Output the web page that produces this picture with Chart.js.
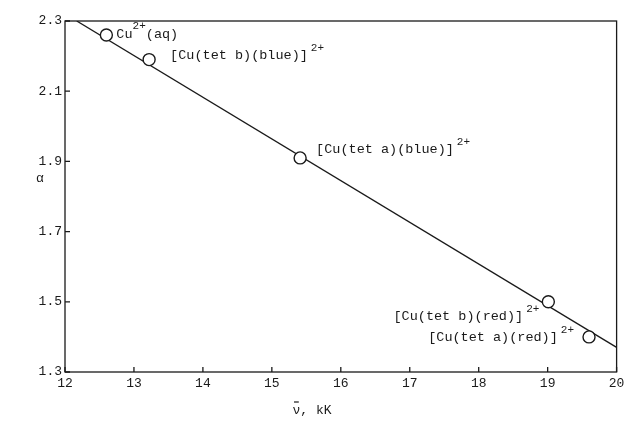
<!DOCTYPE html>
<html>
<head>
<meta charset="utf-8">
<script src="https://cdn.jsdelivr.net/npm/chart.js@4/dist/chart.umd.min.js"></script>
<style>
html, body { margin: 0; background: #fff; }
#wrap { width: 624px; height: 429px; position: relative; }
</style>
</head>
<body>
<div id="wrap"><canvas id="chart"></canvas></div>
<script>
// data
const waveNumbers = [12.6, 13.22, 15.41, 19.01, 19.6];   // kK
const alphas = [2.26, 2.19, 1.91, 1.50, 1.40];
// each label: plain, superscript, plain, ...
const labelText = [
    ['Cu', '2+', '(aq)'],
    ['[Cu(tet b)(blue)]', '2+'],
    ['[Cu(tet a)(blue)]', '2+'],
    ['[Cu(tet b)(red)]', '2+'],
    ['[Cu(tet a)(red)]', '2+']
];
const fitX = [12.17, 20];
const fitY = [2.3, 1.37];
const xTicks = [12, 13, 14, 15, 16, 17, 18, 19, 20];
const yTicks = [1.3, 1.5, 1.7, 1.9, 2.1, 2.3];

// where each label sits relative to its point
const labelPlace = [
    { dx: 10, dy: -1, align: 'left' },
    { dx: 21, dy: -4, align: 'left' },
    { dx: 16, dy: -8, align: 'left' },
    { dx: -9, dy: 15, align: 'right' },
    { dx: -15, dy: 1, align: 'right' }
];

const ink = '#1a1a1a';
const mono = '"Liberation Mono", "DejaVu Sans Mono", monospace';

const framePlugin = {
    id: 'frame',
    afterDatasetsDraw(chart) {
        const ctx = chart.ctx;
        const a = chart.chartArea;
        const xs = chart.scales.x;
        const ys = chart.scales.y;
        ctx.save();
        ctx.strokeStyle = ink;
        ctx.lineWidth = 1.3;
        ctx.strokeRect(a.left, a.top, a.right - a.left, a.bottom - a.top);
        // inward ticks
        ctx.beginPath();
        yTicks.forEach(v => {
            const y = ys.getPixelForValue(v);
            ctx.moveTo(a.left, y);
            ctx.lineTo(a.left + 5, y);
        });
        xTicks.forEach(v => {
            const x = xs.getPixelForValue(v);
            ctx.moveTo(x, a.bottom);
            ctx.lineTo(x, a.bottom - 5);
        });
        ctx.stroke();

        // point labels
        ctx.fillStyle = ink;
        ctx.textBaseline = 'middle';
        labelText.forEach((parts, i) => {
            const p = labelPlace[i];
            let width = 0;
            parts.forEach((t, k) => {
                ctx.font = (k % 2 ? '11px ' : '13.5px ') + mono;
                width += ctx.measureText(t).width + (k % 2 ? 3 : 0);
            });
            let x = xs.getPixelForValue(waveNumbers[i]) + p.dx;
            const y = ys.getPixelForValue(alphas[i]) + p.dy;
            if (p.align === 'right') x -= width;
            parts.forEach((t, k) => {
                const sup = k % 2 === 1;
                ctx.font = (sup ? '11px ' : '13.5px ') + mono;
                if (sup && k === parts.length - 1) x += 3;
                ctx.fillText(t, x, sup ? y - 8 : y);
                x += ctx.measureText(t).width;
            });
        });

        // axis titles
        ctx.font = '13px ' + mono;
        ctx.textAlign = 'center';
        ctx.fillText('\u03b1', 40, 179);
        ctx.textAlign = 'left';
        const title = '\u03bd, kK';
        const tx = 312 - ctx.measureText(title).width / 2;
        ctx.fillText(title, tx, 411);
        // bar over the nu
        const nuW = ctx.measureText('\u03bd').width;
        ctx.lineWidth = 1.2;
        ctx.beginPath();
        ctx.moveTo(tx + 1.5, 402);
        ctx.lineTo(tx + nuW - 1.5, 402);
        ctx.stroke();
        ctx.restore();
    }
};

new Chart(document.getElementById('chart'), {
    type: 'scatter',
    data: {
        datasets: [
            {
                label: 'complexes',
                data: waveNumbers.map((x, i) => ({ x: x, y: alphas[i] })),
                pointRadius: 6,
                pointHoverRadius: 6,
                pointBackgroundColor: '#fff',
                pointBorderColor: ink,
                pointBorderWidth: 1.4
            },
            {
                label: 'fit',
                data: fitX.map((x, i) => ({ x: x, y: fitY[i] })),
                showLine: true,
                pointRadius: 0,
                borderColor: ink,
                borderWidth: 1.3
            }
        ]
    },
    options: {
        responsive: true,
        maintainAspectRatio: false,
        animation: false,
        layout: { padding: { top: 21, right: 4, left: 0, bottom: 0 } },
        plugins: {
            legend: { display: false },
            tooltip: { enabled: false }
        },
        scales: {
            x: {
                type: 'linear',
                min: 12,
                max: 20,
                afterBuildTicks: s => { s.ticks = xTicks.map(v => ({ value: v })); },
                afterFit: s => { s.height = 57; s.paddingRight = 0; },
                grid: { display: false, drawTicks: false },
                border: { display: false },
                ticks: {
                    color: ink,
                    padding: 4,
                    maxRotation: 0,
                    font: { family: mono, size: 13 },
                    callback: v => String(v)
                }
            },
            y: {
                type: 'linear',
                min: 1.3,
                max: 2.3,
                afterBuildTicks: s => { s.ticks = yTicks.map(v => ({ value: v })); },
                afterFit: s => { s.width = 65; },
                grid: { display: false, drawTicks: false },
                border: { display: false },
                ticks: {
                    color: ink,
                    padding: 3,
                    font: { family: mono, size: 13 },
                    callback: v => Number(v).toFixed(1)
                }
            }
        }
    },
    plugins: [framePlugin]
});
</script>
</body>
</html>
